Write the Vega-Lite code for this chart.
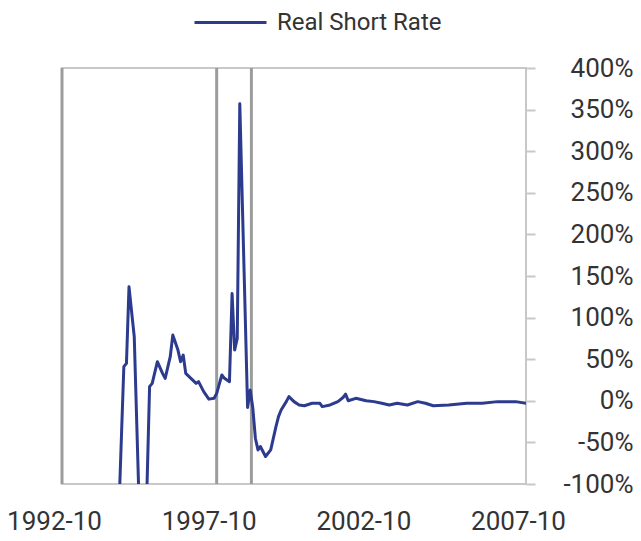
{
  "$schema": "https://vega.github.io/schema/vega-lite/v6.json",
  "width": 464,
  "height": 416,
  "autosize": {"type": "none"},
  "padding": {"left": 62, "top": 68, "right": 115, "bottom": 57},
  "background": "white",
  "config": {
    "view": {"stroke": "#c8c8c8", "strokeWidth": 2},
    "font": "Roboto"
  },
  "datasets": {
    "rate": [
      {"date": "1994-08-01", "value": -140},
      {"date": "1994-10-01", "value": 41},
      {"date": "1994-11-01", "value": 45},
      {"date": "1994-12-01", "value": 137},
      {"date": "1995-02-01", "value": 77},
      {"date": "1995-04-01", "value": -130},
      {"date": "1995-05-01", "value": -170},
      {"date": "1995-06-01", "value": -150},
      {"date": "1995-07-01", "value": -105},
      {"date": "1995-08-01", "value": 17},
      {"date": "1995-09-01", "value": 21},
      {"date": "1995-11-01", "value": 47},
      {"date": "1996-01-01", "value": 33},
      {"date": "1996-02-01", "value": 27},
      {"date": "1996-04-01", "value": 53},
      {"date": "1996-05-01", "value": 79},
      {"date": "1996-07-01", "value": 61},
      {"date": "1996-08-01", "value": 47},
      {"date": "1996-09-01", "value": 55},
      {"date": "1996-10-01", "value": 33},
      {"date": "1996-12-01", "value": 27},
      {"date": "1997-02-01", "value": 21},
      {"date": "1997-03-01", "value": 23},
      {"date": "1997-05-01", "value": 11},
      {"date": "1997-07-01", "value": 2},
      {"date": "1997-09-01", "value": 3},
      {"date": "1997-10-01", "value": 9},
      {"date": "1997-12-01", "value": 31},
      {"date": "1998-01-01", "value": 27},
      {"date": "1998-03-01", "value": 23},
      {"date": "1998-04-01", "value": 129},
      {"date": "1998-05-01", "value": 61},
      {"date": "1998-06-01", "value": 75},
      {"date": "1998-07-01", "value": 357},
      {"date": "1998-10-01", "value": -8},
      {"date": "1998-11-01", "value": 13},
      {"date": "1998-12-01", "value": -8},
      {"date": "1999-01-01", "value": -45},
      {"date": "1999-02-01", "value": -59},
      {"date": "1999-03-01", "value": -55},
      {"date": "1999-05-01", "value": -67},
      {"date": "1999-07-01", "value": -59},
      {"date": "1999-09-01", "value": -31},
      {"date": "1999-10-01", "value": -19},
      {"date": "1999-11-01", "value": -11},
      {"date": "2000-01-01", "value": -1},
      {"date": "2000-02-01", "value": 5},
      {"date": "2000-04-01", "value": -1},
      {"date": "2000-06-01", "value": -5},
      {"date": "2000-08-01", "value": -6},
      {"date": "2000-11-01", "value": -3},
      {"date": "2001-02-01", "value": -3},
      {"date": "2001-03-01", "value": -7},
      {"date": "2001-06-01", "value": -5},
      {"date": "2001-09-01", "value": -1},
      {"date": "2001-11-01", "value": 4},
      {"date": "2001-12-01", "value": 8},
      {"date": "2002-01-01", "value": 0},
      {"date": "2002-04-01", "value": 3},
      {"date": "2002-08-01", "value": 0},
      {"date": "2002-11-01", "value": -1},
      {"date": "2003-02-01", "value": -3},
      {"date": "2003-05-01", "value": -5},
      {"date": "2003-08-01", "value": -3},
      {"date": "2003-12-01", "value": -5},
      {"date": "2004-04-01", "value": -1},
      {"date": "2004-07-01", "value": -3},
      {"date": "2004-10-01", "value": -6},
      {"date": "2005-04-01", "value": -5},
      {"date": "2005-11-01", "value": -3},
      {"date": "2006-05-01", "value": -3},
      {"date": "2006-11-01", "value": -1},
      {"date": "2007-06-01", "value": -1},
      {"date": "2007-10-01", "value": -3}
    ],
    "markers": [
      {"date": "1992-10-01"},
      {"date": "1997-10-01"},
      {"date": "1998-11-15"}
    ]
  },
  "layer": [
    {
      "data": {"name": "markers"},
      "mark": {"type": "rule", "color": "#9c9c9c", "strokeWidth": 3},
      "encoding": {
        "x": {"field": "date", "type": "temporal", "scale": {"type": "utc"}}
      }
    },
    {
      "mark": {"type": "rule", "color": "#b4b4b4", "strokeWidth": 2},
      "encoding": {
        "y": {"datum": 0, "type": "quantitative"}
      }
    },
    {
      "data": {"name": "rate"},
      "mark": {"type": "line", "strokeWidth": 3, "clip": true, "strokeJoin": "round"},
      "encoding": {
        "x": {
          "field": "date",
          "type": "temporal",
          "scale": {
            "type": "utc",
            "domain": [
              {"year": 1992, "month": 10, "date": 1, "utc": true},
              {"year": 2007, "month": 10, "date": 1, "utc": true}
            ]
          },
          "axis": {
            "title": null,
            "orient": "bottom",
            "values": [
              {"year": 1992, "month": 10, "date": 1, "utc": true},
              {"year": 1997, "month": 10, "date": 1, "utc": true},
              {"year": 2002, "month": 10, "date": 1, "utc": true},
              {"year": 2007, "month": 10, "date": 1, "utc": true}
            ],
            "format": "%Y-%m",
            "ticks": false,
            "domain": false,
            "grid": false,
            "labelFontSize": 26,
            "labelColor": "#333333",
            "labelPadding": 24,
            "labelOffset": -8,
            "labelBaseline": "top",
            "labelFlush": false,
            "labelOverlap": false
          }
        },
        "y": {
          "field": "value",
          "type": "quantitative",
          "scale": {"domain": [-100, 400], "nice": false, "zero": false},
          "axis": {
            "title": null,
            "orient": "right",
            "values": [-100, -50, 0, 50, 100, 150, 200, 250, 300, 350, 400],
            "labelExpr": "datum.value + '%'",
            "grid": false,
            "domain": false,
            "tickColor": "#c8c8c8",
            "tickSize": 9,
            "tickWidth": 2,
            "labelFontSize": 26,
            "labelColor": "#333333",
            "labelAlign": "right",
            "labelPadding": 98,
            "labelFlush": false,
            "labelOverlap": false
          }
        },
        "color": {
          "datum": "Real Short Rate",
          "type": "nominal",
          "scale": {"range": ["#2c3b8e"]},
          "legend": {
            "title": null,
            "orient": "none",
            "legendX": 131,
            "legendY": -83,
            "padding": 0,
            "symbolType": "stroke",
            "symbolSize": 5184,
            "symbolStrokeWidth": 3,
            "labelFontSize": 24,
            "labelLimit": 400,
            "labelColor": "#333333",
            "labelOffset": 9
          }
        }
      }
    }
  ]
}
